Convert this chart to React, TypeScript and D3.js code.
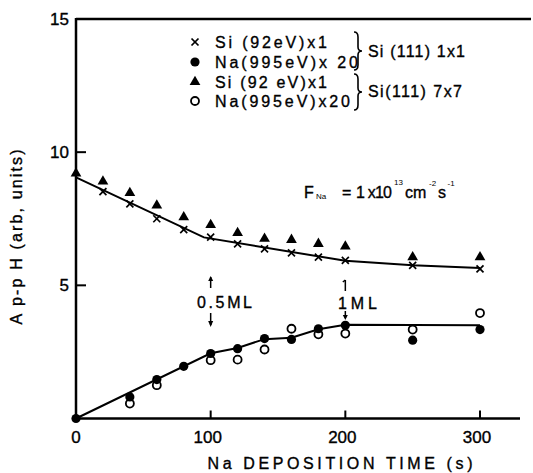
import React from 'react';
import * as d3 from 'd3';

// ---- data ----
const siTimes = [0, 20, 40, 60, 80, 100, 120, 140, 160, 180, 200, 250, 300];
const si1x1 = [9.05, 8.52, 8.06, 7.5, 7.09, 6.81, 6.56, 6.37, 6.22, 6.06, 5.94, 5.75, 5.62];
const si7x7 = [9.2, 8.9, 8.47, 8.0, 7.56, 7.27, 6.97, 6.75, 6.71, 6.56, 6.46, 6.06, 6.06];
const na1x1Times = [0, 40, 60, 80, 100, 120, 140, 160, 180, 200, 250, 300];
const na1x1 = [0, 0.81, 1.46, 1.96, 2.44, 2.62, 3.0, 2.97, 3.37, 3.5, 2.94, 3.34];
const na7x7Times = [40, 60, 100, 120, 140, 160, 180, 200, 250, 300];
const na7x7 = [0.56, 1.25, 2.19, 2.21, 2.59, 3.37, 3.16, 3.19, 3.34, 3.96];
const siFitTimes = [0, 95, 200, 250, 300];
const siFit = [9.05, 6.8, 5.92, 5.75, 5.65];
const naFitTimes = [0, 100, 120, 140, 160, 180, 200, 300];
const naFit = [0, 2.45, 2.65, 2.98, 3.03, 3.35, 3.52, 3.5];
const xTicks = [0, 100, 200, 300];
const yTicks = [5, 10, 15];
const legendLabels = ['Si (92eV)x1', 'Na(995eV)x 20', 'Si (92 eV)x1', 'Na(995eV)x20'];
const groupLabels = ['Si (111) 1x1', 'Si(111) 7x7'];

const FONT = 'Liberation Sans, Arial, sans-serif';

export default function App() {
  const x = d3.scaleLinear().domain([0, 300]).range([76, 480]);
  const y = d3.scaleLinear().domain([0, 15]).range([418.5, 19]);
  const line = d3.line<[number, number]>().x(d => x(d[0])).y(d => y(d[1]));
  const tri = d3.symbol().type(d3.symbolTriangle).size(50)();
  const siFitPts = siFitTimes.map((t, i) => [t, siFit[i]] as [number, number]);
  const naFitPts = naFitTimes.map((t, i) => [t, naFit[i]] as [number, number]);

  const cross = (cx: number, cy: number, k: string) => (
    <g key={k} stroke="#000" strokeWidth={1.7}>
      <line x1={cx - 3.5} y1={cy - 3.5} x2={cx + 3.5} y2={cy + 3.5} />
      <line x1={cx - 3.5} y1={cy + 3.5} x2={cx + 3.5} y2={cy - 3.5} />
    </g>
  );
  const triangle = (cx: number, cy: number, k: string) => (
    <path key={k} d={tri as string} transform={`translate(${cx},${cy})`} fill="#000" />
  );
  const dot = (cx: number, cy: number, k: string) => <circle key={k} cx={cx} cy={cy} r={4.6} fill="#000" />;
  const ring = (cx: number, cy: number, k: string) => (
    <circle key={k} cx={cx} cy={cy} r={4} fill="#fff" stroke="#000" strokeWidth={1.8} />
  );

  const brace = (bx: number, y1: number, y2: number) => {
    const m = (y1 + y2) / 2;
    return `M${bx},${y1} Q${bx + 4},${y1} ${bx + 4},${y1 + 5} L${bx + 4},${m - 4} Q${bx + 4},${m} ${bx + 8},${m} Q${bx + 4},${m} ${bx + 4},${m + 4} L${bx + 4},${y2 - 5} Q${bx + 4},${y2} ${bx},${y2}`;
  };

  const legendY = [42, 62, 82, 101];
  const legendMarks = [cross, dot, triangle, ring];
  const legendW = [112, 143, 112, 135];
  const txt = { stroke: '#000', strokeWidth: 0.35 };

  return (
    <svg width={533} height={473} style={{ position: 'absolute', left: 0, top: 0, background: '#fff' }} fontFamily={FONT}>
      <rect x={0} y={0} width={533} height={473} fill="#fff" />
      {/* axes */}
      <line x1={76} y1={y(15)} x2={531} y2={y(15)} stroke="#000" strokeWidth={2.5} />
      <line x1={76} y1={y(15) - 1} x2={76} y2={420} stroke="#000" strokeWidth={2.5} />
      <line x1={75} y1={y(0)} x2={520} y2={y(0)} stroke="#000" strokeWidth={2.5} />
      {xTicks.map(t => (
        <g key={'xt' + t}>
          {t > 0 && <line x1={x(t)} y1={y(0)} x2={x(t)} y2={y(0) - 8} stroke="#000" strokeWidth={2} />}
          <text x={x(t) - (t > 0 ? 3 : 0)} y={443} fontSize={17} textAnchor="middle" {...txt}>{t}</text>
        </g>
      ))}
      {yTicks.map(v => (
        <g key={'yt' + v}>
          {v < 15 && <line x1={76} y1={y(v)} x2={86} y2={y(v)} stroke="#000" strokeWidth={2} />}
          <text x={69} y={y(v) + 6} fontSize={17} textAnchor="end" {...txt}>{v}</text>
        </g>
      ))}
      <text x={340} y={469} fontSize={16} textAnchor="middle" textLength={265} lengthAdjust="spacing" {...txt}>Na DEPOSITION TIME (s)</text>
      <text transform="translate(22,237) rotate(-90)" fontSize={16} textAnchor="middle" textLength={175} lengthAdjust="spacing" {...txt}>A p-p H (arb, units)</text>

      {/* fit lines */}
      <path d={line(siFitPts) as string} fill="none" stroke="#000" strokeWidth={2} />
      <path d={line(naFitPts) as string} fill="none" stroke="#000" strokeWidth={2} />

      {/* markers */}
      {siTimes.map((t, i) => triangle(x(t), y(si7x7[i]), 'tr' + i))}
      {siTimes.map((t, i) => (i > 0 ? cross(x(t), y(si1x1[i]), 'cr' + i) : null))}
      {na7x7Times.map((t, i) => ring(x(t), y(na7x7[i]), 'rg' + i))}
      {na1x1Times.map((t, i) => dot(x(t), y(na1x1[i]), 'dt' + i))}

      {/* legend */}
      {legendLabels.map((l, i) => (
        <g key={'lg' + i}>
          {legendMarks[i](195, legendY[i], 'lm' + i)}
          <text x={215} y={legendY[i] + 6} fontSize={16} textLength={legendW[i]} lengthAdjust="spacing" {...txt}>{l}</text>
        </g>
      ))}
      <path d={brace(354, 32, 70)} fill="none" stroke="#000" strokeWidth={1.6} />
      <path d={brace(354, 74, 110)} fill="none" stroke="#000" strokeWidth={1.6} />
      <text x={368} y={57} fontSize={16} textLength={97} lengthAdjust="spacing" {...txt}>{groupLabels[0]}</text>
      <text x={368} y={97} fontSize={16} textLength={94} lengthAdjust="spacing" {...txt}>{groupLabels[1]}</text>

      {/* flux annotation */}
      <text x={304} y={198} fontSize={16} {...txt}>F</text>
      <text x={316} y={199} fontSize={8}>Na</text>
      <text x={342} y={198} fontSize={16} {...txt}>=</text>
      <text x={356} y={198} fontSize={16} textLength={36} lengthAdjust="spacing" {...txt}>1 x10</text>
      <text x={394} y={185} fontSize={8}>13</text>
      <text x={405} y={198} fontSize={16} {...txt}>cm</text>
      <text x={429} y={186} fontSize={8}>-2</text>
      <text x={438} y={198} fontSize={16} {...txt}>s</text>
      <text x={447.5} y={186} fontSize={8}>-1</text>

      {/* coverage marks */}
      <text x={197} y={308} fontSize={16} textLength={55} lengthAdjust="spacing" {...txt}>0.5ML</text>
      <line x1={x(100)} y1={277} x2={x(100)} y2={288} stroke="#000" strokeWidth={1.5} />
      <path d={`M${x(100) - 2.5},${281} L${x(100)},${276} L${x(100) + 2.5},${281}Z`} fill="#000" />
      <line x1={x(100)} y1={313} x2={x(100)} y2={325} stroke="#000" strokeWidth={1.5} />
      <path d={`M${x(100) - 2.5},${321} L${x(100)},${327} L${x(100) + 2.5},${321}Z`} fill="#000" />
      <text x={338} y={309} fontSize={16} textLength={39} lengthAdjust="spacing" {...txt}>1ML</text>
      <line x1={x(200)} y1={280} x2={x(200)} y2={291} stroke="#000" strokeWidth={1.5} />
      <line x1={x(200) - 2.5} y1={282} x2={x(200)} y2={280} stroke="#000" strokeWidth={1.5} />
      <line x1={x(200)} y1={311} x2={x(200)} y2={318} stroke="#000" strokeWidth={1.5} />
      <path d={`M${x(200) - 2.5},${315} L${x(200)},${320} L${x(200) + 2.5},${315}Z`} fill="#000" />
    </svg>
  );
}
